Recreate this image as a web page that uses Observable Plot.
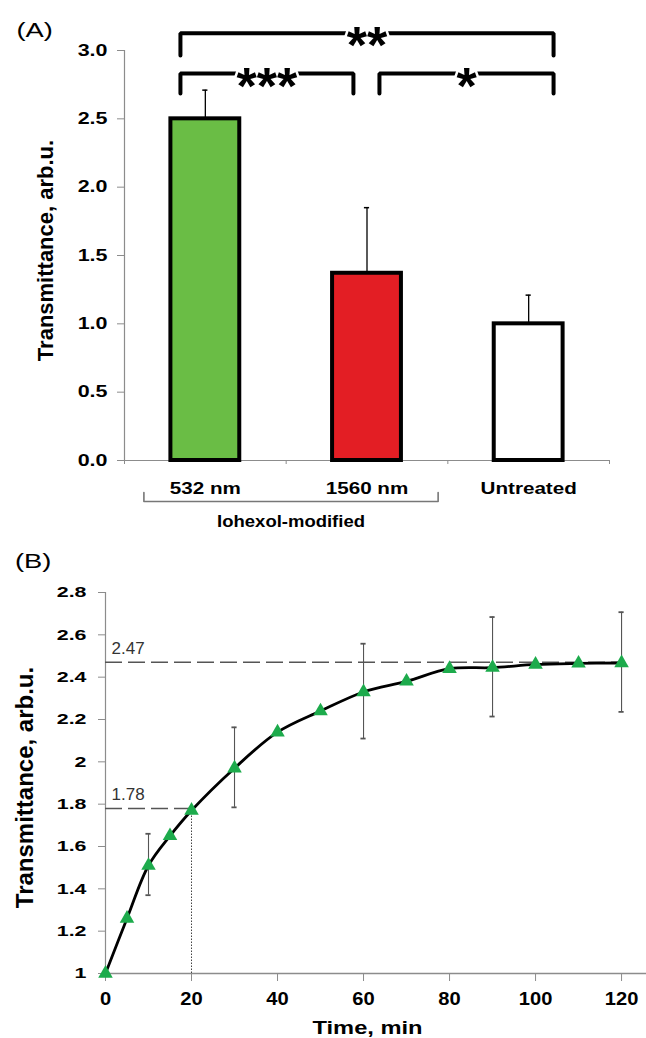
<!DOCTYPE html>
<html><head><meta charset="utf-8">
<script src="https://cdn.jsdelivr.net/npm/d3@7"></script>
<script src="https://cdn.jsdelivr.net/npm/@observablehq/plot@0.6"></script>
<style>
html,body{margin:0;padding:0;background:#fff;}
#wrap{position:relative;width:646px;height:1038px;overflow:hidden;background:#fff;}
#wrap svg{position:absolute;left:0;overflow:visible;}
</style></head><body><div id="wrap"></div>
<script>
// ---------- Panel A data ----------
const categories = ["532 nm", "1560 nm", "Untreated"];
const barValues = [2.5, 1.37, 1.0];
const barErrorTops = [2.71, 1.85, 1.21];
const barColors = ["#6ABD45", "#E31E24", "#FFFFFF"];
const yTicksA = [0, 0.5, 1, 1.5, 2, 2.5, 3];
const xBoundsA = [0, 1, 2, 3];
const groupLabel = "Iohexol-modified";
const groupBracket = {x1: 0.12, x2: 1.94, y: -0.30, tip: -0.234};
const sigBrackets = [
  {label: "**",  x1: 0.346, x2: 2.654, y: 3.127, drop: 2.963},
  {label: "***", x1: 0.346, x2: 1.416, y: 2.832, drop: 2.685},
  {label: "*",   x1: 1.577, x2: 2.654, y: 2.832, drop: 2.685}
];
// ---------- Panel B data ----------
const times = [0, 5, 10, 15, 20, 30, 40, 50, 60, 70, 80, 90, 100, 110, 120];
const transmittance = [1.0, 1.26, 1.51, 1.65, 1.77, 1.97, 2.14, 2.24, 2.33, 2.38, 2.44, 2.445, 2.46, 2.465, 2.467];
const errTimes = [10, 30, 60, 90, 120];
const errLow = [1.37, 1.785, 2.11, 2.214, 2.236];
const errHigh = [1.66, 2.163, 2.558, 2.684, 2.707];
const refLines = [
  {value: 2.47, label: "2.47", xEnd: 120},
  {value: 1.78, label: "1.78", xEnd: 20}
];
const xTicksB = [0, 20, 40, 60, 80, 100, 120];
const yTicksB = [1, 1.2, 1.4, 1.6, 1.8, 2, 2.2, 2.4, 2.6, 2.8];

const FONT = '"Liberation Sans", Arial, sans-serif';
const AXIS = "#8c8c8c";
const W = 646;
const tag = name => () => name;   // per-element aria-label used to find texts afterwards

// ---------- Panel A ----------
const bars = categories.map((c, i) => ({cat: c, i, value: barValues[i], top: barErrorTops[i], color: barColors[i]}));
const barHalf = 0.213, capHalfA = 0.016;
const bracketPts = sigBrackets.flatMap(b => [
  {label: b.label, x: b.x1, y: b.drop}, {label: b.label, x: b.x1, y: b.y},
  {label: b.label, x: b.x2, y: b.y}, {label: b.label, x: b.x2, y: b.drop}
]);
const groupPts = [
  {x: groupBracket.x1, y: groupBracket.tip}, {x: groupBracket.x1, y: groupBracket.y},
  {x: groupBracket.x2, y: groupBracket.y}, {x: groupBracket.x2, y: groupBracket.tip}
];

const plotA = Plot.plot({
  width: W, height: 540,
  marginLeft: 124, marginRight: 37, marginTop: 50, marginBottom: 80,
  x: {domain: [0, 3], axis: null},
  y: {domain: [0, 3], axis: null},
  color: {type: "identity"},
  style: {fontFamily: FONT, background: "white", color: "black"},
  marks: [
    Plot.ruleX([0], {y1: 0, y2: 3, stroke: AXIS, strokeWidth: 1.2}),
    Plot.ruleY([0], {x1: 0, x2: 3, stroke: AXIS, strokeWidth: 1.2}),
    Plot.axisY({ticks: yTicksA, tickSize: 7, tickPadding: 10, stroke: AXIS, fill: "#000",
      fontSize: 16.5, fontWeight: "bold", tickFormat: d3.format(".1f"), label: null}),
    Plot.axisX({ticks: xBoundsA, tickSize: 4, stroke: AXIS, fill: "none", label: null}),
    Plot.ruleX(bars, {x: d => d.i + 0.5, y1: "value", y2: "top", stroke: "#000", strokeWidth: 1.3}),
    Plot.ruleY(bars, {y: "top", x1: d => d.i + 0.5 - capHalfA, x2: d => d.i + 0.5 + capHalfA, stroke: "#000", strokeWidth: 1.5}),
    Plot.rectY(bars, {x1: d => d.i + 0.5 - barHalf, x2: d => d.i + 0.5 + barHalf, y1: 0, y2: "value",
      fill: "color", stroke: "#000", strokeWidth: 4}),
    Plot.text(bars, {x: d => d.i + 0.5, y: 0, text: "cat", dy: 28, fontSize: 16.5, fontWeight: "bold",
      lineAnchor: "middle", ariaLabel: tag("cat-label")}),
    Plot.line(groupPts, {x: "x", y: "y", stroke: "#777", strokeWidth: 1.6}),
    Plot.text([groupLabel], {x: (groupBracket.x1 + groupBracket.x2) / 2, y: groupBracket.y, dy: 20,
      fontSize: 16.5, fontWeight: "bold", lineAnchor: "middle", ariaLabel: tag("group-label")}),
    Plot.line(bracketPts, {x: "x", y: "y", z: "label", stroke: "#000", strokeWidth: 4, strokeLinejoin: "miter"}),
    Plot.text(sigBrackets, {x: d => (d.x1 + d.x2) / 2, y: "y", text: "label", fontSize: 52, fontWeight: "bold",
      lineAnchor: "middle", dy: 13.5, fill: "#000", stroke: "white", strokeWidth: 5}),
    Plot.text(["Transmittance, arb.u."], {frameAnchor: "left", textAnchor: "middle", rotate: -90, dx: -79, dy: -5,
      fontSize: 22, fontWeight: "bold", lineAnchor: "middle"}),
    Plot.text(["(A)"], {frameAnchor: "top-left", dx: -108, dy: -20, textAnchor: "start",
      lineAnchor: "middle", fontSize: 21, ariaLabel: tag("panel-label")})
  ]
});

// ---------- Panel B ----------
const pts = times.map((t, i) => ({t, v: transmittance[i]}));
const errs = errTimes.map((t, i) => ({t, lo: errLow[i], hi: errHigh[i]}));
const capHalfB = 0.6;
const xMaxB = 125.8;

const plotB = Plot.plot({
  width: W, height: 498,
  marginLeft: 105, marginRight: 0, marginTop: 52, marginBottom: 65,
  x: {domain: [0, xMaxB], axis: null},
  y: {domain: [1, 2.8], axis: null},
  style: {fontFamily: FONT, background: "white", color: "black"},
  marks: [
    Plot.ruleY([1], {x1: 0, x2: xMaxB, stroke: AXIS, strokeWidth: 1.4}),
    Plot.ruleX([0], {y1: 1, y2: 2.8, stroke: AXIS, strokeWidth: 1.2}),
    Plot.axisY({ticks: yTicksB, tickSize: 7, tickPadding: 12, stroke: AXIS, fill: "#000",
      fontSize: 15.5, fontWeight: "bold", tickFormat: d3.format("~g"), label: null}),
    Plot.axisX({ticks: xTicksB, tickSize: 8, tickPadding: 11, stroke: AXIS, fill: "#000",
      fontSize: 17.5, fontWeight: "bold", tickFormat: d3.format("d"), label: null}),
    Plot.ruleY(refLines, {y: "value", x1: 0, x2: "xEnd", stroke: "#555", strokeWidth: 1.5, strokeDasharray: "17,6"}),
    Plot.ruleX(refLines.filter(r => r.xEnd < 120), {x: "xEnd", y1: 1, y2: "value", stroke: "#444", strokeWidth: 1, strokeDasharray: "1.5,1.5"}),
    Plot.text(refLines, {x: 0, y: "value", text: "label", textAnchor: "start", lineAnchor: "middle",
      dx: 6, dy: -14, fontSize: 17, fill: "#333"}),
    Plot.ruleX(errs, {x: "t", y1: "lo", y2: "hi", stroke: "#555", strokeWidth: 1.1}),
    Plot.ruleY(errs, {y: "lo", x1: d => d.t - capHalfB, x2: d => d.t + capHalfB, stroke: "#555", strokeWidth: 1.8}),
    Plot.ruleY(errs, {y: "hi", x1: d => d.t - capHalfB, x2: d => d.t + capHalfB, stroke: "#555", strokeWidth: 1.8}),
    Plot.line(pts, {x: "t", y: "v", curve: "catmull-rom", stroke: "#000", strokeWidth: 2.8}),
    Plot.dot(pts, {x: "t", y: "v", symbol: "triangle", r: 5.4, fill: "#1DAB4C"}),
    Plot.text(["Time, min"], {frameAnchor: "bottom", dx: -8.5, dy: 55, fontSize: 18.5, fontWeight: "bold",
      lineAnchor: "middle", ariaLabel: tag("xtitle")}),
    Plot.text(["Transmittance, arb.u."], {frameAnchor: "left", textAnchor: "middle", rotate: -90, dx: -80, dy: 4.5,
      fontSize: 24, fontWeight: "bold", lineAnchor: "middle"}),
    Plot.text(["(B)"], {frameAnchor: "top-left", dx: -90.5, dy: -31, textAnchor: "start",
      lineAnchor: "middle", fontSize: 21, ariaLabel: tag("panel-label")})
  ]
});

const wrap = document.getElementById("wrap");
plotA.style.top = "0px";
plotB.style.top = "540px";
wrap.appendChild(plotA);
wrap.appendChild(plotB);

// widen lettering horizontally, as in the reference figure
function widen(texts, f) {
  texts.forEach(t => {
    const w = t.getComputedTextLength();
    if (w > 0) {
      t.setAttribute("textLength", (w * f).toFixed(2));
      t.setAttribute("lengthAdjust", "spacingAndGlyphs");
    }
  });
}
function stretch(svg, groupMap, tagMap) {
  for (const [label, f] of Object.entries(groupMap)) widen(svg.querySelectorAll(`g[aria-label="${label}"] text`), f);
  for (const [label, f] of Object.entries(tagMap)) widen(svg.querySelectorAll(`text[aria-label="${label}"]`), f);
}
stretch(plotA, {"y-axis tick label": 1.3}, {"cat-label": 1.25, "group-label": 1.12, "panel-label": 1.3});
stretch(plotB, {"y-axis tick label": 1.38, "x-axis tick label": 1.15}, {"xtitle": 1.28, "panel-label": 1.3});
</script>
</body></html>
